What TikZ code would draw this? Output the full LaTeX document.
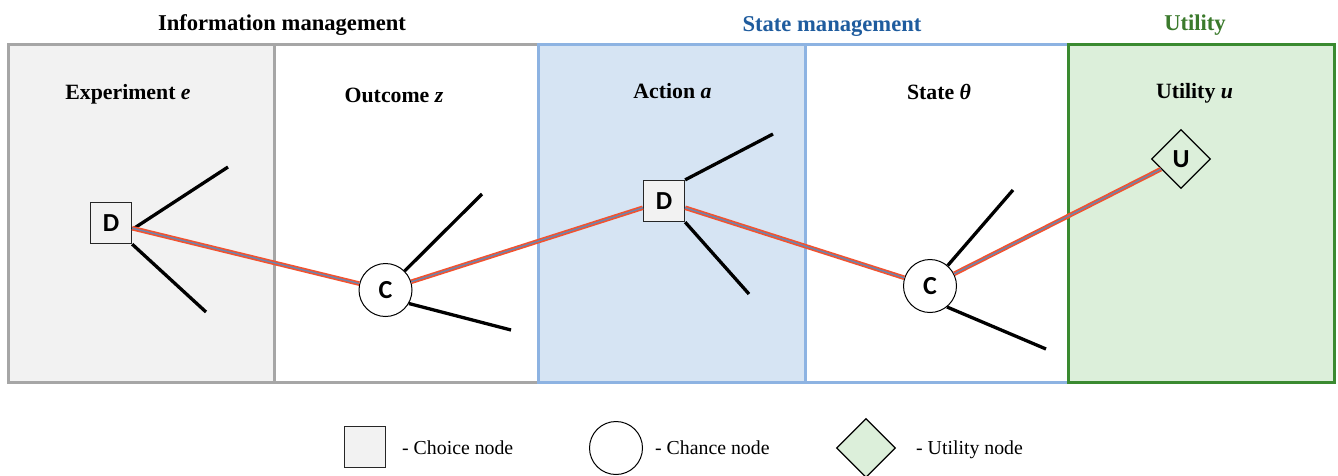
\documentclass[tikz,border=0pt]{standalone}
\usepackage{fontspec}
\setmainfont{Liberation Serif}
\newfontfamily\nodefont{Carlito}
\usetikzlibrary{shapes.geometric}
\definecolor{boxgray}{HTML}{A6A6A6}
\definecolor{fillgray}{HTML}{F2F2F2}
\definecolor{boxblue}{HTML}{8DB3E2}
\definecolor{fillblue}{HTML}{D6E4F3}
\definecolor{boxgreen}{HTML}{3A8A30}
\definecolor{fillgreen}{HTML}{DCEFDA}
\definecolor{titleblue}{HTML}{1F5C9E}
\definecolor{titlegreen}{HTML}{3B7A2C}
\definecolor{pathred}{HTML}{F4522E}
\definecolor{pathblue}{HTML}{6A86B0}
\tikzset{
  panel/.style={line width=3pt},
  header/.style={font=\bfseries\fontsize{22.6}{24}\selectfont, inner sep=0pt, anchor=base},
  subtitle/.style={font=\bfseries\fontsize{21.8}{24}\selectfont, inner sep=0pt, anchor=base},
  legendtext/.style={font=\fontsize{19.8}{22}\selectfont, anchor=base west, inner sep=0pt},
  letter/.style={font=\nodefont\bfseries\fontsize{26}{26}\selectfont},
  choice/.style={letter, draw=black!85, line width=1.3pt, fill=fillgray, minimum size=41pt, inner sep=0pt},
  chance/.style={letter, circle, draw=black, line width=1pt, fill=white, minimum size=53pt, inner sep=0pt},
  utility/.style={letter, diamond, aspect=1, draw=black, line width=1.2pt, fill=fillgreen, minimum width=59pt, minimum height=59pt, inner sep=0pt},
  branch/.style={draw=black, line width=3.3pt},
  redpath/.style={draw=pathred, line width=4.6pt, postaction={draw=pathblue, line width=1.4pt}}
}
\begin{document}
\begin{tikzpicture}[x=1pt,y=-1pt]
\useasboundingbox (0,0) rectangle (1338,475);
\fill[white] (0,0) rectangle (1338,475);
% panels
\draw[panel, draw=boxgray, fill=fillgray] (8,44) rectangle (274,382);
\draw[panel, draw=boxgray, fill=white] (274,44) rectangle (538,382);
\draw[panel, draw=boxblue, fill=fillblue] (538,44) rectangle (805,382);
\draw[panel, draw=boxblue, fill=white] (805,44) rectangle (1068,382);
\draw[panel, draw=boxgreen, fill=fillgreen] (1068,44) rectangle (1334,382);
% headers
\node[header] (h1) at (282,30) {Information management};
\node[header, text=titleblue] (h2) at (832,31) {State management};
\node[header, text=titlegreen] (h3) at (1195,30) {Utility};
% subtitles
\node[subtitle] (t1) at (128,99) {Experiment \textit{e}};
\node[subtitle] (t2) at (394,102) {Outcome \textit{z}};
\node[subtitle] (t3) at (672.5,98) {Action \textit{a}};
\node[subtitle] (t4) at (939,99) {State \textit{θ}};
\node[subtitle] (t5) at (1194.5,98) {Utility \textit{u}};
% nodes
\node[choice] (D1) at (111,223) {D};
\node[chance] (C1) at (385.5,290) {C};
\node[choice] (D2) at (664,201) {D};
\node[chance] (C2) at (930,286) {C};
\node[utility] (U) at (1181,159) {U};
% branch ends
\coordinate (d1a) at (228,167);
\coordinate (d1b) at (206,312);
\coordinate (c1a) at (482,194);
\coordinate (c1b) at (511,330);
\coordinate (d2a) at (773,134);
\coordinate (d2b) at (749,294);
\coordinate (c2a) at (1013,190);
\coordinate (c2b) at (1046,349);
\draw[branch] ([yshift=-6.5pt]D1.east) -- (d1a);
\draw[branch] (D1.south east) -- (d1b);
\draw[branch] (C1) -- (c1a);
\draw[branch] (C1.-30) -- (c1b);
\draw[branch] (D2.north east) -- (d2a);
\draw[branch] (D2.south east) -- (d2b);
\draw[branch] (C2) -- (c2a);
\draw[branch] (C2.-51) -- (c2b);
% decision path
\draw[redpath] (D1) -- (C1);
\draw[redpath] (C1) -- (D2);
\draw[redpath] (D2) -- (C2);
\draw[redpath] (C2) -- (U);
% legend
\node[choice] (L1) at (365,447) {};
\node[legendtext] (L1t) at (402,454) {- Choice node};
\node[chance] (L2) at (616,448) {};
\node[legendtext] (L2t) at (655,454) {- Chance node};
\node[utility] (L3) at (866,448) {};
\node[legendtext] (L3t) at (916,454) {- Utility node};
\end{tikzpicture}
\end{document}
